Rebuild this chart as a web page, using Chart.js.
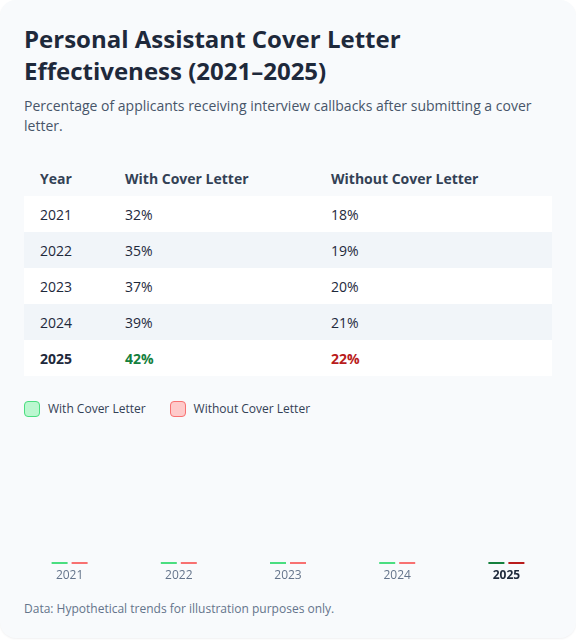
<!DOCTYPE html>
<html>
<head>
<meta charset="utf-8">
<script src="https://cdn.jsdelivr.net/npm/chart.js@4.4.1/dist/chart.umd.min.js"></script>
<style>
  html, body { margin: 0; padding: 0; background: #ffffff; }
  body { width: 576px; height: 640px; position: relative; overflow: hidden; font-family: "Open Sans", "Noto Sans", sans-serif; }
  .card { position: absolute; left: 0; top: 0; width: 576px; height: 638px; background: #f8fafc; border-radius: 16px; box-shadow: 0 1px 2px rgba(15,23,42,0.06); }
  h1 { position: absolute; left: 24px; top: 23px; width: 528px; margin: 0; font-size: 24px; line-height: 32px; font-weight: 700; color: #1e293b; }
  .sub { position: absolute; left: 24px; top: 96px; width: 528px; margin: 0; font-size: 14px; line-height: 19.6px; color: #475569; }
  table { position: absolute; left: 24px; top: 160px; width: 528px; border-collapse: collapse; font-size: 14px; color: #1e293b; }
  th { text-align: left; font-weight: 700; color: #334155; height: 36px; padding: 0 0 0 16px; }
  td { height: 36px; padding: 0 0 0 16px; }
  tbody tr { background: #ffffff; }
  tbody tr:nth-child(even) { background: #f1f5f9; }
  tr.hl td { font-weight: 700; }
  .legend { position: absolute; left: 24px; top: 400px; display: flex; align-items: center; font-size: 12px; color: #334155; }
  .legend .item { display: flex; align-items: center; margin-right: 24px; }
  .legend .sw { width: 14px; height: 14px; border-radius: 4px; border: 1px solid; margin-right: 8px; }
  #chartBox { position: absolute; left: 15px; top: 520px; width: 546px; height: 80px; }
  .foot { position: absolute; left: 24px; top: 600px; font-size: 12px; color: #64748b; }
</style>
</head>
<body>
<div class="card">
  <h1>Personal Assistant Cover Letter Effectiveness (2021–2025)</h1>
  <p class="sub">Percentage of applicants receiving interview callbacks after submitting a cover letter.</p>
  <table id="tbl">
    <colgroup><col style="width:85px"><col style="width:206px"><col style="width:237px"></colgroup>
    <thead><tr><th>Year</th><th>With Cover Letter</th><th>Without Cover Letter</th></tr></thead>
    <tbody></tbody>
  </table>
  <div class="legend">
    <div class="item"><div class="sw" style="background:#bbf7d0;border-color:#4ade80"></div>With Cover Letter</div>
    <div class="item"><div class="sw" style="background:#fecaca;border-color:#f87171"></div>Without Cover Letter</div>
  </div>
  <div id="chartBox"><canvas id="c"></canvas></div>
  <div class="foot">Data: Hypothetical trends for illustration purposes only.</div>
</div>
<script>
const years = ["2021", "2022", "2023", "2024", "2025"];
const withCover = [32, 35, 37, 39, 42];
const withoutCover = [18, 19, 20, 21, 22];
const highlightYear = "2025";

// table
const tb = document.querySelector('#tbl tbody');
years.forEach((y, i) => {
  const tr = document.createElement('tr');
  const hl = y === highlightYear;
  if (hl) tr.className = 'hl';
  tr.innerHTML = '<td>' + y + '</td>' +
    '<td' + (hl ? ' style="color:#15803d"' : '') + '>' + withCover[i] + '%</td>' +
    '<td' + (hl ? ' style="color:#b91c1c"' : '') + '>' + withoutCover[i] + '%</td>';
  tb.appendChild(tr);
});

const greenCols = years.map(y => y === highlightYear ? '#15803d' : '#4ade80');
const redCols = years.map(y => y === highlightYear ? '#b91c1c' : '#f87171');

new Chart(document.getElementById('c'), {
  type: 'bar',
  data: {
    labels: years,
    datasets: [
      { label: 'With Cover Letter', data: withCover, backgroundColor: greenCols, borderWidth: 0, minBarLength: 2 },
      { label: 'Without Cover Letter', data: withoutCover, backgroundColor: redCols, borderWidth: 0, minBarLength: 2 }
    ]
  },
  options: {
    responsive: true,
    maintainAspectRatio: false,
    animation: false,
    categoryPercentage: 40 / 109.2,
    barPercentage: 0.8,
    layout: { padding: { top: 40, bottom: 12, left: 0, right: 0 } },
    plugins: { legend: { display: false }, tooltip: { enabled: false } },
    scales: {
      x: {
        grid: { display: false, drawTicks: false },
        border: { display: false },
        afterFit: (scale) => { scale.height = 24; },
        ticks: {
          padding: 4,
          color: (ctx) => years[ctx.index] === highlightYear ? '#1e293b' : '#64748b',
          font: (ctx) => ({ family: '"Open Sans", "Noto Sans", sans-serif', size: 12, lineHeight: 1.3, weight: years[ctx.index] === highlightYear ? '700' : '400' })
        }
      },
      y: { display: false, min: 0, max: 100 }
    }
  }
});
</script>
</body>
</html>
